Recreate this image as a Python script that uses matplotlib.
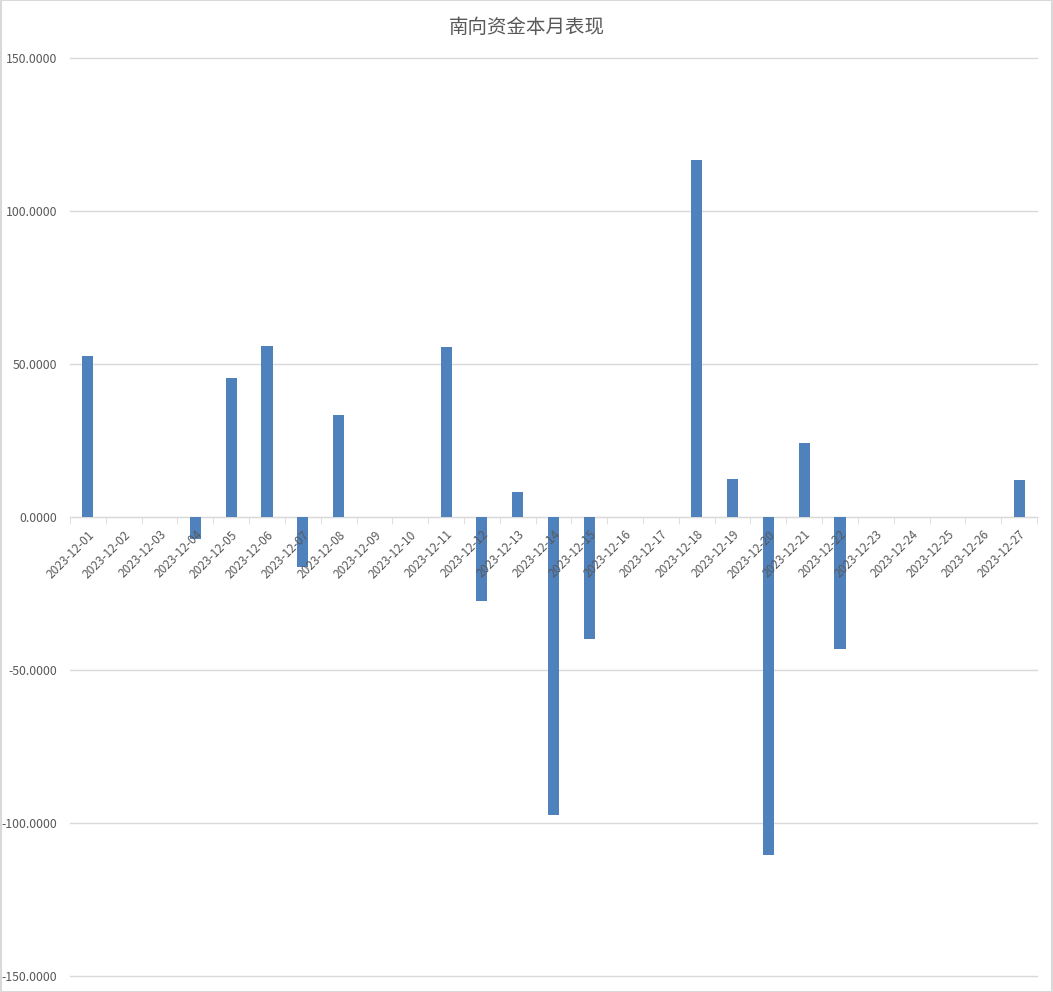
import matplotlib.pyplot as plt
import numpy as np
from matplotlib.ticker import FuncFormatter, FixedLocator

plt.rcParams['font.family'] = ['Noto Sans CJK SC', 'DejaVu Sans']

# data
dates = ['2023-12-%02d' % d for d in range(1, 28)]
flows = [52.6, 0, 0, -7.2, 45.4, 55.9, -16.3, 33.3, 0, 0,
         55.6, -27.5, 8.2, -97.4, -39.9, 0, 0, 116.7, 12.4, -110.5,
         24.2, -43.1, 0, 0, 0, 0, 12.1]
yticks = [-150, -100, -50, 0, 50, 100, 150]
title = '南向资金本月表现'

text_color = '#595959'
grid_color = '#D9D9D9'
bar_color = '#4F81BD'

fig = plt.figure(figsize=(10.53, 9.92), dpi=100)
ax = fig.add_axes([70 / 1053, 16 / 992, 967 / 1053, 918 / 992])

x = np.arange(len(dates))
ax.bar(x, flows, width=0.31, color=bar_color, zorder=2)

ax.set_xlim(-0.5, len(dates) - 0.5)
ax.set_ylim(-150, 150)
ax.set_yticks(yticks)
ax.yaxis.set_major_formatter(FuncFormatter(lambda v, p: '%.4f' % v))
# gridlines behind the bars, tick labels on top of them
for t in yticks:
    ax.axhline(t, color=grid_color, linewidth=1, zorder=0, clip_on=False)
ax.xaxis.set_zorder(5)

for s in ['left', 'right', 'top']:
    ax.spines[s].set_visible(False)
ax.spines['bottom'].set_position(('data', 0))
ax.spines['bottom'].set_color(grid_color)
ax.spines['bottom'].set_zorder(1)

ax.set_xticks(x)
ax.set_xticklabels(dates, rotation=45, ha='right', rotation_mode='anchor',
                   fontsize=8.6, color=text_color)
ax.tick_params(axis='x', which='major', length=0, pad=8)
ax.xaxis.set_minor_locator(FixedLocator(np.arange(-0.5, len(dates), 1)))
ax.tick_params(axis='x', which='minor', length=5, color=grid_color)
ax.tick_params(axis='y', length=0, pad=9, labelsize=8.8, labelcolor=text_color)

fig.text(0.5, 1 - 27 / 992, title, ha='center', va='center',
         fontsize=14, color=text_color)

# light border round the chart area
fig.patches.append(plt.Rectangle((0.0005, 0.0005), 0.999, 0.999, transform=fig.transFigure,
                                 fill=False, edgecolor='#D9D9D9', linewidth=1.5))

fig.savefig('out.png', dpi=100)
